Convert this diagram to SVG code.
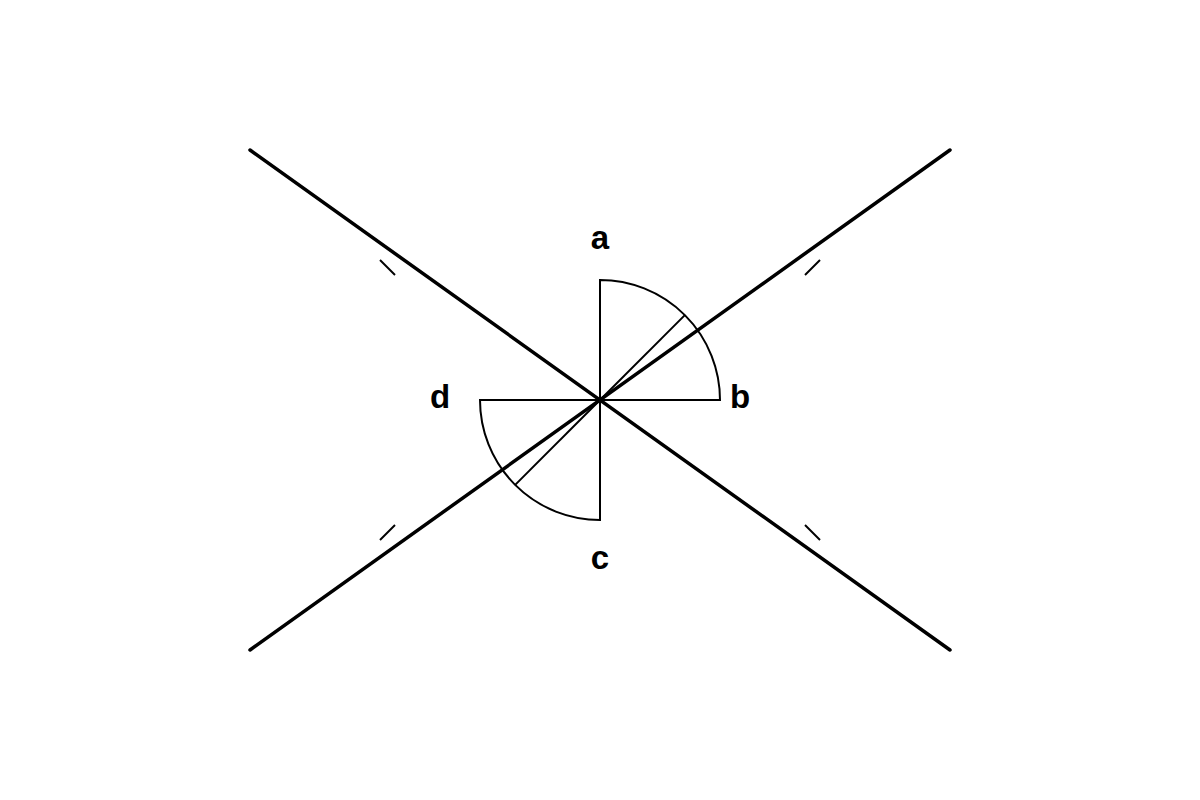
<svg xmlns="http://www.w3.org/2000/svg" width="1200" height="800" viewBox="0 0 1200 800">
<style>
.main{stroke:#000;stroke-width:3.5;stroke-linecap:round;fill:none}
.thin{stroke:#000;stroke-width:2;fill:none}
.tick{stroke:#000;stroke-width:2;fill:none}
.lbl{font-family:"Liberation Sans",Arial,sans-serif;font-weight:bold;font-size:33px;fill:#000;text-anchor:middle}
</style>
<rect width="1200" height="800" fill="#fff"/>
<g id="connectors">
<line class="main" x1="250" y1="150" x2="950" y2="650"/>
<line class="main" x1="250" y1="650" x2="950" y2="150"/>
<line class="tick" x1="380" y1="260" x2="395" y2="275"/>
<line class="tick" x1="805" y1="275" x2="820" y2="260"/>
<line class="tick" x1="380" y1="540" x2="395" y2="525"/>
<line class="tick" x1="805" y1="525" x2="820" y2="540"/>
</g>
<g id="angle-ab">
<path class="thin" d="M600,400 L600,280 A120,120 0 0 1 720,400 Z"/>
<line class="thin" x1="600" y1="400" x2="684.85" y2="315.15"/>
</g>
<g id="angle-cd">
<path class="thin" d="M600,400 L600,520 A120,120 0 0 1 480,400 Z"/>
<line class="thin" x1="600" y1="400" x2="515.15" y2="484.85"/>
</g>
<g id="label-a"><text class="lbl" x="600" y="249">a</text></g>
<g id="label-b"><text class="lbl" x="740" y="408">b</text></g>
<g id="label-c"><text class="lbl" x="600" y="569">c</text></g>
<g id="label-d"><text class="lbl" x="440" y="408">d</text></g>
</svg>
